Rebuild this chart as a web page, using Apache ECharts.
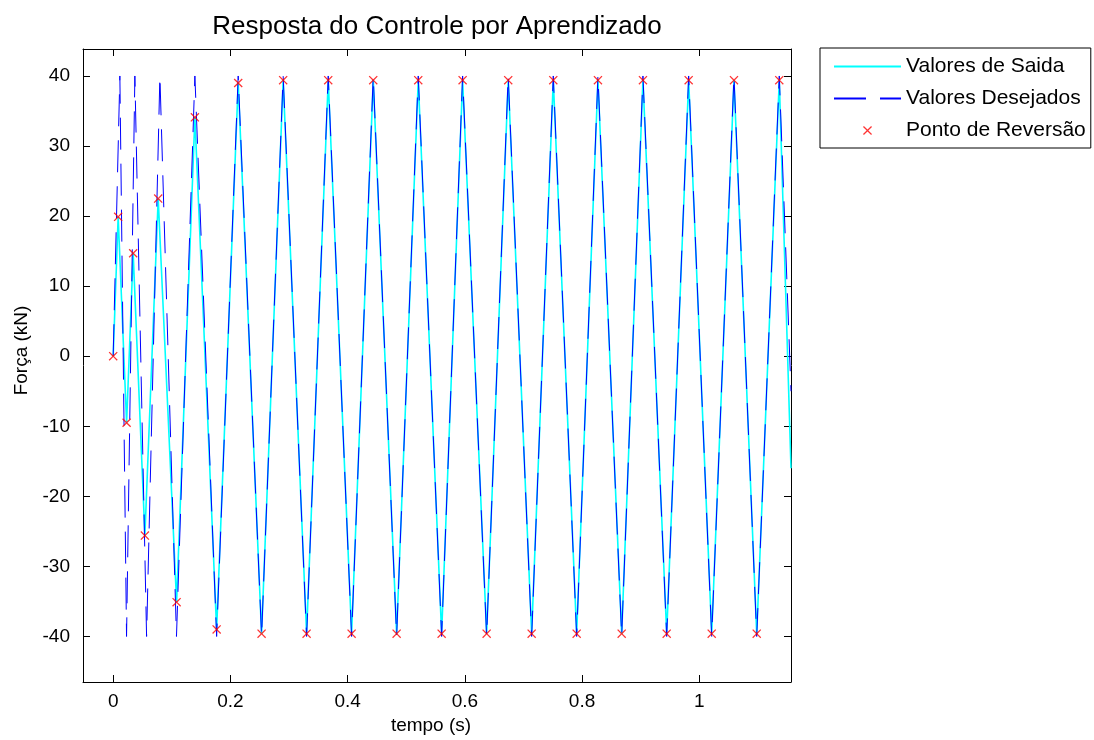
<!DOCTYPE html>
<html lang="pt">
<head>
    <meta charset="utf-8">
    <title>Resposta do Controle por Aprendizado</title>
    <script src="https://cdn.jsdelivr.net/npm/echarts@6.0.0/dist/echarts.min.js"></script>
    <style>
        html, body { margin: 0; padding: 0; background: #fff; }
        #main { width: 1094px; height: 740px; }
    </style>
</head>
<body>
<div id="main"></div>
<script type="text/javascript">
// pontos de reversao
var revTime = [0, 0.0085, 0.0229, 0.0341, 0.0541, 0.0768, 0.1082, 0.1394, 0.1765, 0.2133,
    0.2532, 0.2900, 0.3300, 0.3669, 0.4068, 0.4437, 0.4836, 0.5205, 0.5604, 0.5962,
    0.6372, 0.6740, 0.7140, 0.7509, 0.7908, 0.8271, 0.8676, 0.9039, 0.9444, 0.9819,
    1.0212, 1.0592, 1.0980, 1.1365];
var revForce = [0, 19.9, -9.5, 14.7, -25.6, 22.5, -35.1, 34.1, -39.0, 39.0,
    -39.6, 39.4, -39.6, 39.4, -39.6, 39.4, -39.6, 39.4, -39.6, 39.4,
    -39.6, 39.4, -39.6, 39.4, -39.6, 39.4, -39.6, 39.4, -39.6, 39.4,
    -39.6, 39.4, -39.6, 39.4];

// valores de saida: passa pelos pontos de reversao, ultimo ponto na borda
var saidaTime = revTime.concat([1.1565]);
var saidaForce = revForce.concat([-16]);

// valores desejados (vertices da onda)
var desTime = [0, 0.0114, 0.0228, 0.0370, 0.0570, 0.0797, 0.1080, 0.1394, 0.1765, 0.2133,
    0.2532, 0.2900, 0.3300, 0.3669, 0.4068, 0.4437, 0.4836, 0.5205, 0.5604, 0.5962,
    0.6372, 0.6740, 0.7140, 0.7509, 0.7908, 0.8271, 0.8676, 0.9039, 0.9444, 0.9819,
    1.0212, 1.0592, 1.0980, 1.1365, 1.1565];
var desForce = [0, 40, -40, 40, -40, 40, -40, 40, -40, 40,
    -40, 40, -40, 40, -40, 40, -40, 40, -40, 40,
    -40, 40, -40, 40, -40, 40, -40, 40, -40, 40,
    -40, 40, -40, 40, -5];

var xTicks = [0, 0.2, 0.4, 0.6, 0.8, 1];
var yTicks = [-40, -30, -20, -10, 0, 10, 20, 30, 40];

function pares(xs, ys) {
    var out = [];
    for (var i = 0; i < xs.length; i++) out.push([xs[i], ys[i]]);
    return out;
}

var fonte = "'Liberation Sans', Arial, Helvetica, sans-serif";
var xMin = -0.0515, xMax = 1.1565, yMin = -46.5, yMax = 43.85;

var myChart = echarts.init(document.getElementById('main'));

function eixoX(pos, mostrar) {
    return {
        type: 'value', position: pos, min: xMin, max: xMax,
        name: mostrar ? 'tempo (s)' : '', nameLocation: 'middle', nameGap: 29,
        nameTextStyle: { fontFamily: fonte, fontSize: 19, color: '#000', padding: [0, 12, 0, 0] },
        axisLine: { show: true, onZero: false, lineStyle: { color: '#000', width: 1 } },
        axisTick: { show: true, inside: true, length: 7, customValues: xTicks, lineStyle: { color: '#000' } },
        axisLabel: {
            show: mostrar, margin: 10, customValues: xTicks,
            fontFamily: fonte, fontSize: 19, color: '#000',
            formatter: function (v) { return String(+v.toFixed(1)); }
        },
        splitLine: { show: false }
    };
}

function eixoY(pos, mostrar) {
    return {
        type: 'value', position: pos, min: yMin, max: yMax,
        name: mostrar ? 'Força (kN)' : '', nameLocation: 'middle', nameGap: 50,
        nameTextStyle: { fontFamily: fonte, fontSize: 19, color: '#000', padding: [0, 0, 0, 30] },
        axisLine: { show: true, onZero: false, lineStyle: { color: '#000', width: 1 } },
        axisTick: { show: true, inside: true, length: 7, customValues: yTicks, lineStyle: { color: '#000' } },
        axisLabel: {
            show: mostrar, margin: 13, customValues: yTicks,
            fontFamily: fonte, fontSize: 19, color: '#000'
        },
        splitLine: { show: false }
    };
}

var option = {
    animation: false,
    backgroundColor: '#fff',
    title: {
        text: 'Resposta do Controle por Aprendizado',
        left: 432, top: 9, textAlign: 'center',
        textStyle: { fontFamily: fonte, fontSize: 26, fontWeight: 'normal', color: '#000' }
    },
    grid: { left: 83, top: 49, width: 708, height: 633, containLabel: false },
    legend: {
        orient: 'vertical', left: 820, top: 48,
        padding: [8, 5, 7, 13], itemGap: 11,
        itemWidth: 67, itemHeight: 9,
        backgroundColor: '#fff', borderColor: '#000', borderWidth: 1, borderRadius: 0,
        textStyle: { fontFamily: fonte, fontSize: 21, color: '#000', lineHeight: 21 },
        data: [
            { name: 'Valores de Saida', itemStyle: { opacity: 0 } },
            { name: 'Valores Desejados', itemStyle: { opacity: 0 } },
            { name: 'Ponto de Reversão' }
        ]
    },
    xAxis: [eixoX('bottom', true), eixoX('top', false)],
    yAxis: [eixoY('left', true), eixoY('right', false)],
    series: [
        {
            name: 'Valores de Saida', type: 'line',
            data: pares(saidaTime, saidaForce),
            showSymbol: false, symbol: 'none',
            lineStyle: { color: '#00ffff', width: 1.6 },
            itemStyle: { color: '#00ffff' },
            z: 2
        },
        {
            name: 'Valores Desejados', type: 'line',
            data: pares(desTime, desForce),
            showSymbol: false, symbol: 'none',
            lineStyle: { color: '#0000ff', width: 1, type: [32, 14] },
            itemStyle: { color: '#0000ff' },
            z: 3
        },
        {
            name: 'Ponto de Reversão', type: 'scatter',
            data: pares(revTime, revForce),
            symbol: 'path://M1,0L5,4L9,0L10,1L6,5L10,9L9,10L5,6L1,10L0,9L4,5L0,1Z',
            symbolSize: 9,
            itemStyle: { color: '#ff0000' },
            z: 4
        }
    ]
};

myChart.setOption(option);
</script>
</body>
</html>
